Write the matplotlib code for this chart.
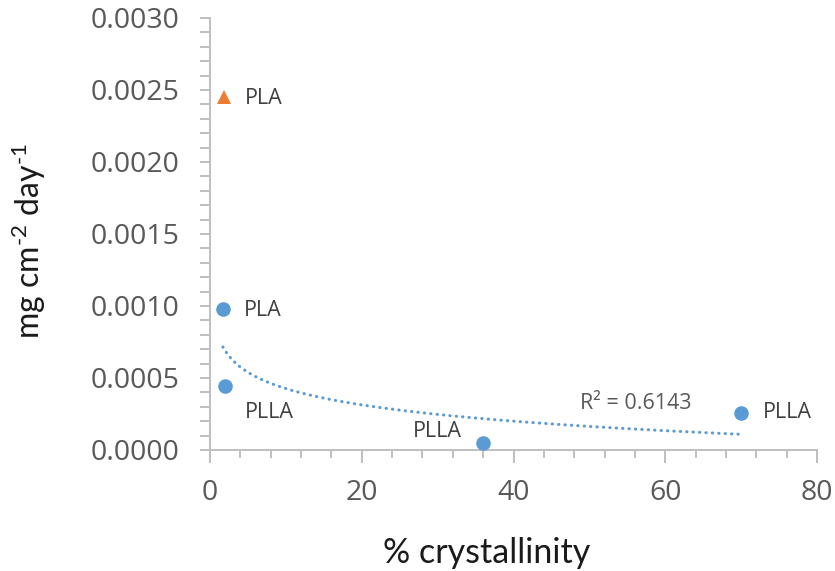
import numpy as np
import matplotlib
matplotlib.use("Agg")
import matplotlib.pyplot as plt

# Degradation rate vs. crystallinity
blue_x = [1.7, 2.0, 36.0, 70.0]
blue_y = [0.00098, 0.000444, 0.00005, 0.000257]
blue_labels = ["PLA", "PLLA", "PLLA", "PLLA"]
orange_x = [1.8]
orange_y = [0.00245]
orange_labels = ["PLA"]
r2_text = "R² = 0.6143"

x_ticks = [0, 20, 40, 60, 80]
y_ticks = [0.0, 0.0005, 0.0010, 0.0015, 0.0020, 0.0025, 0.0030]

plt.rcParams['font.family'] = ['Open Sans', 'DejaVu Sans']
plt.rcParams['mathtext.fontset'] = 'custom'
plt.rcParams['mathtext.rm'] = 'Lato'
plt.rcParams['mathtext.it'] = 'Lato'

fig = plt.figure(figsize=(8.35, 5.71), dpi=100)
ax = fig.add_axes([210/835, 1 - 450/571, (817-210)/835, (450-18)/571])

blue = "#5B9BD5"
orange = "#ED7D31"
axis_gray = "#BFBFBF"
tick_gray = "#595959"
label_gray = "#404040"

# Logarithmic trendline through the blue series
a, b = np.polyfit(np.log(blue_x), blue_y, 1)
xs = np.linspace(min(blue_x), max(blue_x), 200)
ax.plot(xs, a*np.log(xs) + b, color=blue, lw=2.2, linestyle=(0, (0.1, 2.0)),
        dash_capstyle='round', zorder=2)

ax.plot(blue_x, blue_y, 'o', color=blue, markersize=10.5, markeredgewidth=0, zorder=3)
ax.plot(orange_x, orange_y, '^', color=orange, markersize=10, markeredgewidth=0, zorder=3)

lab_kw = dict(textcoords='offset points', fontsize=15.5, color=label_gray)
ax.annotate(orange_labels[0], (orange_x[0], orange_y[0]), xytext=(15, -1),
            ha='left', va='center', **lab_kw)
ax.annotate(blue_labels[0], (blue_x[0], blue_y[0]), xytext=(15, -1),
            ha='left', va='center', **lab_kw)
ax.annotate(blue_labels[1], (blue_x[1], blue_y[1]), xytext=(14, -19),
            ha='left', va='center', **lab_kw)
ax.annotate(blue_labels[2], (blue_x[2], blue_y[2]), xytext=(-15, 8),
            ha='right', va='center', **lab_kw)
ax.annotate(blue_labels[3], (blue_x[3], blue_y[3]), xytext=(16, 0),
            ha='left', va='center', **lab_kw)
ax.text(48.7, 0.00032, r2_text, fontsize=15.5, color=tick_gray, ha='left', va='center')

ax.set_xlim(0, 80)
ax.set_ylim(0, 0.003)
ax.set_xticks(x_ticks)
ax.set_yticks(y_ticks)
ax.set_xticklabels([str(v) for v in x_ticks])
ax.set_yticklabels([f"{v:.4f}" for v in y_ticks])
ax.set_xticks(np.arange(0, 81, 4), minor=True)
ax.set_yticks(np.arange(0, 0.00301, 0.0001), minor=True)

for side in ['top', 'right']:
    ax.spines[side].set_visible(False)
for side in ['left', 'bottom']:
    ax.spines[side].set_color(axis_gray)
    ax.spines[side].set_linewidth(1.4)

ax.tick_params(axis='both', which='major', colors=axis_gray, labelcolor=tick_gray,
               labelsize=20.5, width=1.4, length=7, direction='out')
ax.tick_params(axis='both', which='minor', colors=axis_gray, width=1.4, length=6,
               direction='out')
ax.tick_params(axis='y', which='both', length=7)
ax.tick_params(axis='y', which='major', pad=15)
ax.tick_params(axis='x', which='major', length=9, pad=12)

ax.set_xlabel("% crystallinity", fontsize=24.5, color="#1a1a1a", family='Lato')
ax.xaxis.label.set_verticalalignment('baseline')
ax.xaxis.set_label_coords(0.456, -(563 - 450) / 432)
ax.set_ylabel(r"mg cm$^{\text{-2}}$ day$^{\text{-1}}$", fontsize=23, color="#1a1a1a",
              family='Lato')
ax.yaxis.set_label_coords(-(210 - 48) / 607, 0.484)

fig.savefig("out.png", dpi=100)
